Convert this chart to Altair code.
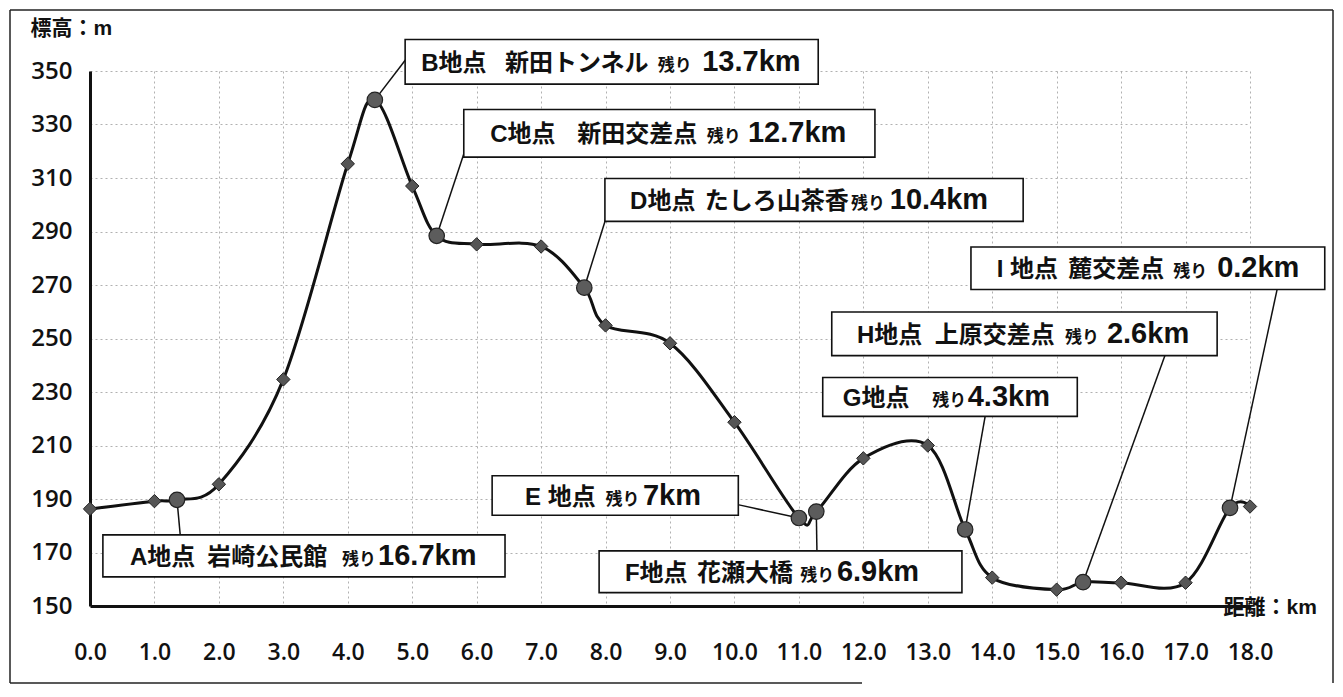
import altair as alt
import pandas as pd

# ---------------- data ----------------
dist_km = [0.0, 1.0, 1.35, 2.0, 3.0, 4.0, 4.42, 5.0, 5.38, 6.0, 7.0, 7.67, 8.0,
           9.0, 10.0, 11.0, 11.27, 12.0, 13.0, 13.58, 14.0, 15.0, 15.41, 16.0,
           17.0, 17.69, 18.0]
elev_m = [186.3, 189.2, 189.7, 195.5, 234.7, 315.3, 339.2, 307.0, 288.4, 285.2,
          284.4, 269.0, 254.9, 248.2, 218.7, 182.9, 185.3, 205.2, 210.0, 178.6,
          160.6, 156.1, 158.9, 158.7, 158.7, 186.7, 187.2]
point_tag = ["", "", "A", "", "", "", "B", "", "C", "", "", "D", "", "", "",
             "E", "F", "", "", "G", "", "", "H", "", "", "I", ""]

x_ticks = [float(v) for v in range(0, 19)]
y_ticks = list(range(150, 351, 20))

# callout texts
label_tag = ["A", "B", "C", "D", "E", "F", "G", "H", "I"]
label_head = ["A地点", "B地点", "C地点", "D地点", "E 地点", "F地点", "G地点", "H地点", "I 地点"]
label_place = ["岩崎公民館", "新田トンネル", "新田交差点", "たしろ山茶香", "", "花瀬大橋", "", "上原交差点", "麓交差点"]
label_left = ["残り"] * 9
label_remain = ["16.7km", "13.7km", "12.7km", "10.4km", "7km", "6.9km", "4.3km", "2.6km", "0.2km"]

# callout layout (data units: km / m)
box_x1 = [0.20, 4.89, 5.80, 7.99, 6.24, 7.90, 11.37, 11.51, 13.67]
box_x2 = [6.44, 11.30, 12.18, 14.48, 10.06, 13.53, 15.32, 17.49, 19.16]
box_top = [176.6, 361.8, 335.6, 309.8, 198.7, 170.6, 235.4, 259.9, 284.2]
box_bot = [160.9, 345.1, 317.8, 293.8, 183.9, 155.0, 220.9, 243.6, 268.3]
head_x = [0.62, 5.14, 6.21, 8.38, 6.75, 8.30, 11.68, 11.90, 14.07]
place_x = [1.82, 6.44, 7.56, 9.54, 7.09, 9.42, 11.68, 13.11, 15.18]
nokori_x = [3.91, 8.81, 9.57, 11.81, 8.00, 11.02, 13.07, 15.13, 16.81]
remain_x = [4.47, 9.50, 10.21, 12.41, 8.58, 11.59, 13.62, 15.78, 17.49]
anchor_x = [1.40, 4.90, 5.80, 8.00, 10.07, 11.28, 13.89, 16.68, 18.42]
anchor_y = [176.6, 354.3, 319.0, 294.5, 187.8, 170.6, 220.9, 243.6, 268.3]

# ---------------- tables ----------------
pts = pd.DataFrame({"km": dist_km, "m": elev_m, "tag": point_tag})
diam = pts[pts["tag"] == ""]
circ = pts[pts["tag"] != ""]

lab = pd.DataFrame({
    "tag": label_tag, "head": label_head, "place": label_place,
    "nokori": label_left, "remain": label_remain,
    "bx1": box_x1, "bx2": box_x2, "btop": box_top, "bbot": box_bot,
    "hx": head_x, "px": place_x, "nx": nokori_x, "rx": remain_x,
    "ax": anchor_x, "ay": anchor_y,
})
lab["ty"] = (lab["btop"] + lab["bbot"]) / 2 - 3.4
lab = lab.merge(circ[["tag", "km", "m"]], on="tag")
place_rows = lab[lab["place"] != ""]

# ---------------- styling ----------------
JP_FONT = "Liberation Sans, Noto Sans CJK JP"
NUM_FONT = "Open Sans"
X_SCALE = alt.Scale(domain=[0, 18], nice=False, zero=False)
Y_SCALE = alt.Scale(domain=[150, 350], nice=False, zero=False)
GRID = dict(grid=True, gridColor="#a8a8a8", gridDash=[2, 3], gridWidth=0.9)
X_AXIS = alt.Axis(values=x_ticks, format=".1f", title="距離：km", titleAngle=0,
                  titleAlign="left", titleBaseline="middle", titleX=1133, titleY=1,
                  titleFont=JP_FONT, titleFontSize=21, titleFontWeight="bold",
                  titleColor="#111", labelFont=NUM_FONT, labelFontSize=23,
                  labelFontWeight=600, labelColor="#111", labelPadding=35,
                  ticks=False, tickSize=0, domainColor="#111", domainWidth=3,
                  labelFlush=False, labelOverlap=False, **GRID)
Y_AXIS = alt.Axis(values=y_ticks, title="標高：m", titleAngle=0, titleAlign="left",
                  titleBaseline="middle", titleX=-60, titleY=-43, titleFont=JP_FONT,
                  titleFontSize=21, titleFontWeight="bold", titleColor="#111",
                  labelFont=NUM_FONT, labelFontSize=24, labelFontWeight=600,
                  labelColor="#111", labelPadding=18, ticks=False, tickSize=0,
                  domainColor="#111", domainWidth=3, labelFlush=False,
                  labelOverlap=False, **GRID)


def X(f):
    return alt.X(f, type="quantitative", scale=X_SCALE, axis=X_AXIS)


def Y(f):
    return alt.Y(f, type="quantitative", scale=Y_SCALE, axis=Y_AXIS)


line = alt.Chart(pts).mark_line(interpolate="cardinal", color="#111", strokeWidth=3).encode(
    x=X("km"), y=Y("m"))

leaders = alt.Chart(lab).mark_rule(color="#111", strokeWidth=1.5).encode(
    x=X("ax"), y=Y("ay"), x2="km:Q", y2="m:Q")

boxes = alt.Chart(lab).mark_rect(fill="white", stroke="#111", strokeWidth=1.6).encode(
    x=X("bx1"), x2="bx2:Q", y=Y("btop"), y2="bbot:Q")

t_head = alt.Chart(lab).mark_text(align="left", baseline="alphabetic", font=JP_FONT,
                                  fontSize=24, fontWeight="bold", color="#111").encode(
    x=X("hx"), y=Y("ty"), text="head:N")
t_place = alt.Chart(place_rows).mark_text(align="left", baseline="alphabetic", font=JP_FONT,
                                          fontSize=24, fontWeight="bold", color="#111").encode(
    x=X("px"), y=Y("ty"), text="place:N")
t_nokori = alt.Chart(lab).mark_text(align="left", baseline="alphabetic", font=JP_FONT,
                                    fontSize=17, fontWeight="bold", color="#111").encode(
    x=X("nx"), y=Y("ty"), text="nokori:N")
t_remain = alt.Chart(lab).mark_text(align="left", baseline="alphabetic", font="Liberation Sans",
                                    fontSize=29, fontWeight="bold", color="#111").encode(
    x=X("rx"), y=Y("ty"), text="remain:N")

diamonds = alt.Chart(diam).mark_point(shape="diamond", filled=True, size=180, color="#555",
                                      stroke="#222", strokeWidth=1, opacity=1).encode(
    x=X("km"), y=Y("m"))
circles = alt.Chart(circ).mark_point(shape="circle", filled=True, size=240, color="#5c5c5c",
                                     stroke="#222", strokeWidth=1.2, opacity=1).encode(
    x=X("km"), y=Y("m"))

# outer frame of the figure (decoration)
one = pd.DataFrame({"k": [0]})
frame_top = alt.Chart(one).mark_rule(color="#222", strokeWidth=1.5).encode(
    x=alt.value(-80), x2=alt.value(1243), y=alt.value(-61))
frame_left = alt.Chart(one).mark_rule(color="#222", strokeWidth=1.5).encode(
    x=alt.value(-80), y=alt.value(-61), y2=alt.value(612))
frame_right = alt.Chart(one).mark_rule(color="#222", strokeWidth=1.5).encode(
    x=alt.value(1243), y=alt.value(-61), y2=alt.value(612))
frame_bot = alt.Chart(one).mark_rule(color="#222", strokeWidth=1.5).encode(
    x=alt.value(-80), x2=alt.value(772), y=alt.value(612))

chart = alt.layer(
    line, leaders, boxes, t_head, t_place, t_nokori, t_remain, diamonds, circles,
    frame_top, frame_left, frame_right, frame_bot,
).properties(
    width=1160, height=535,
    padding={"left": 82, "top": 63, "right": 85, "bottom": 80},
    autosize=alt.AutoSizeParams(type="none"),
    background="white",
).configure_view(stroke=None)

chart.save("out.html", embed_options={"renderer": "svg", "actions": False})
